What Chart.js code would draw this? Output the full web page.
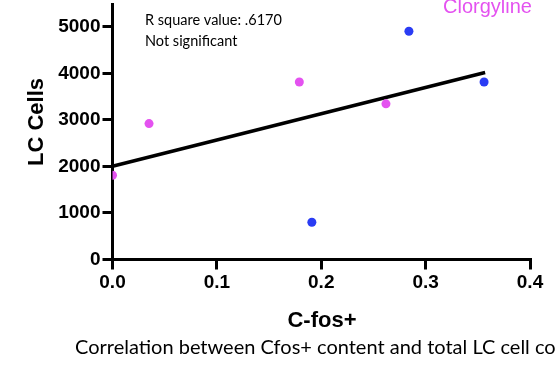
<!DOCTYPE html>
<html>
<head>
<meta charset="utf-8">
<script src="https://cdn.jsdelivr.net/npm/chart.js@4"></script>
<style>
  html, body { margin: 0; padding: 0; background: #fff; }
  #wrap { width: 556px; height: 369px; }
</style>
</head>
<body>
<div id="wrap"><canvas id="chart"></canvas></div>
<script>
// Values
const clorgylineX = [0, 0.035, 0.179, 0.262];
const clorgylineY = [1810, 2920, 3815, 3345];
const otherX = [0.191, 0.284, 0.356];
const otherY = [800, 4905, 3815];
const fitX = [0, 0.357];
const fitY = [2005, 4020];
const xTicks = [0, 0.1, 0.2, 0.3, 0.4];
const yTicks = [0, 1000, 2000, 3000, 4000, 5000];

const magenta = '#e452f0';
const blue = '#2a3cf4';

const toPoints = (xs, ys) => xs.map((x, i) => ({ x: x, y: ys[i] }));

// Draw the free text (axis titles, caption, notes)
const textPlugin = {
    id: 'texts',
    afterDraw(chart) {
        const ctx = chart.ctx;
        ctx.save();
        ctx.fillStyle = '#000';

        // y title
        ctx.save();
        ctx.translate(37, 122);
        ctx.rotate(-Math.PI / 2);
        ctx.font = 'bold 22px "Liberation Sans", Arial, sans-serif';
        ctx.textAlign = 'center';
        ctx.textBaseline = 'middle';
        ctx.fillText('LC Cells', 0, 0);
        ctx.restore();

        // x title
        ctx.font = 'bold 22px "Liberation Sans", Arial, sans-serif';
        ctx.textAlign = 'center';
        ctx.textBaseline = 'middle';
        ctx.fillText('C-fos+', 322, 321);

        // caption
        ctx.font = '20px Lato, sans-serif';
        ctx.textAlign = 'left';
        ctx.fillText('Correlation between Cfos+ content and total LC cell count', 75, 348);

        // notes
        ctx.font = '14.5px Lato, sans-serif';
        ctx.fillText('R square value: .6170', 145, 20);
        ctx.fillText('Not significant', 145, 41);

        ctx.fillStyle = magenta;
        ctx.font = '20px "Liberation Sans", Arial, sans-serif';
        ctx.fillText('Clorgyline', 443, 7);
        ctx.restore();
    }
};

const noPad = scale => {
    scale.paddingTop = 0;
    scale.paddingBottom = 0;
    scale.paddingLeft = 0;
    scale.paddingRight = 0;
};

const ctx = document.getElementById('chart');

new Chart(ctx, {
    type: 'scatter',
    data: {
        datasets: [
            {
                label: 'Clorgyline',
                data: toPoints(clorgylineX, clorgylineY),
                backgroundColor: magenta,
                borderWidth: 0,
                pointRadius: 4.5,
                order: 1
            },
            {
                label: 'Other',
                data: toPoints(otherX, otherY),
                backgroundColor: blue,
                borderWidth: 0,
                pointRadius: 4.5,
                order: 1
            },
            {
                type: 'line',
                label: 'Fit',
                data: toPoints(fitX, fitY),
                borderColor: '#000',
                borderWidth: 3.5,
                pointRadius: 0,
                fill: false,
                order: 2
            }
        ]
    },
    options: {
        responsive: true,
        maintainAspectRatio: false,
        animation: false,
        layout: { padding: { left: 0, right: 26, top: 0, bottom: 0 } },
        plugins: {
            legend: { display: false },
            tooltip: { enabled: false }
        },
        scales: {
            x: {
                type: 'linear',
                min: 0,
                max: 0.4,
                afterBuildTicks: scale => { scale.ticks = xTicks.map(v => ({ value: v })); },
                afterFit: scale => { scale.height = 109.5; noPad(scale); },
                border: { display: true, color: '#000', width: 3 },
                grid: { display: true, drawOnChartArea: false, drawTicks: true, tickLength: 10, color: '#000', lineWidth: 3 },
                ticks: {
                    color: '#000',
                    padding: 2,
                    maxRotation: 0,
                    font: { family: '"Liberation Sans", Arial, sans-serif', size: 19, weight: 'bold' },
                    callback: v => v.toFixed(1)
                }
            },
            y: {
                type: 'linear',
                min: 0,
                max: 5480,
                afterBuildTicks: scale => { scale.ticks = yTicks.map(v => ({ value: v })); },
                afterFit: scale => { scale.width = 112.5; noPad(scale); },
                border: { display: true, color: '#000', width: 3 },
                grid: { display: true, drawOnChartArea: false, drawTicks: true, tickLength: 10, color: '#000', lineWidth: 3 },
                ticks: {
                    color: '#000',
                    padding: 2,
                    font: { family: '"Liberation Sans", Arial, sans-serif', size: 19, weight: 'bold' },
                    callback: v => String(v)
                }
            }
        }
    },
    plugins: [textPlugin]
});
</script>
</body>
</html>
